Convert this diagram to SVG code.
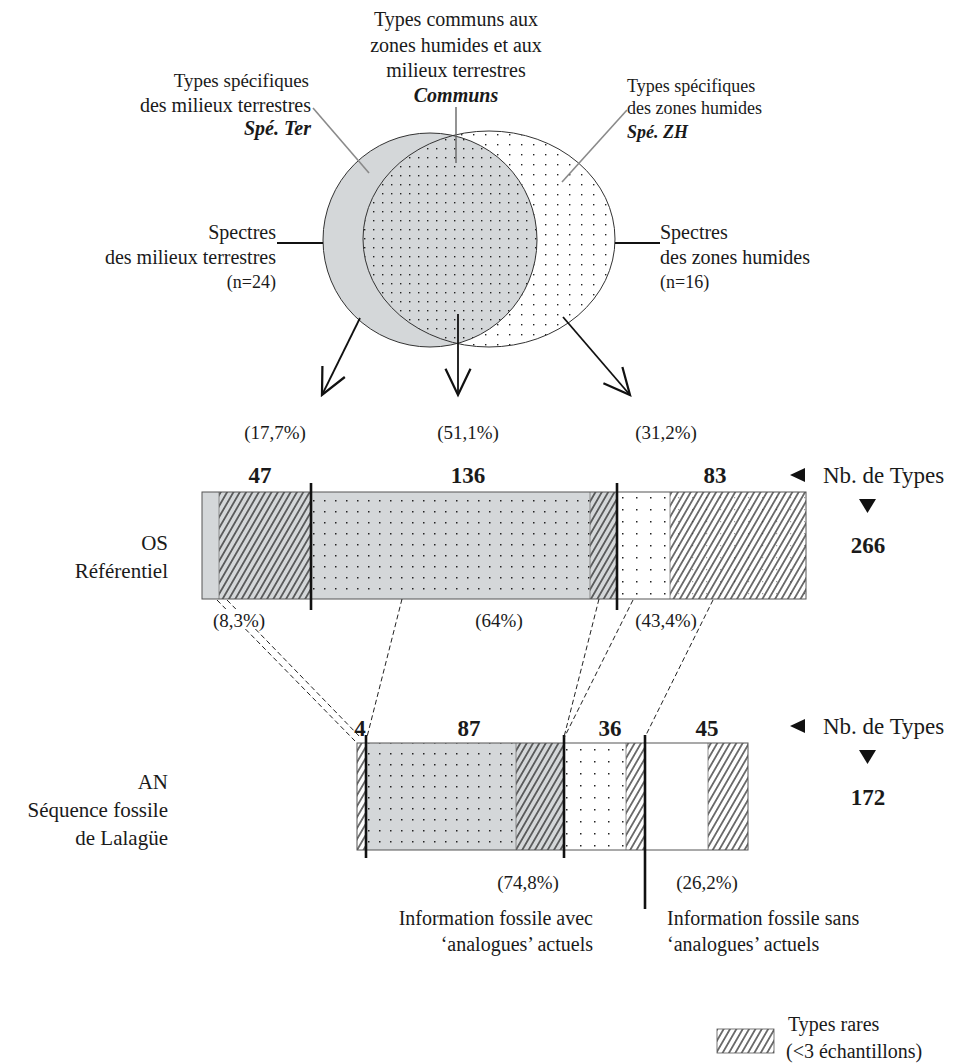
<svg xmlns="http://www.w3.org/2000/svg" width="968" height="1064" viewBox="0 0 968 1064">
<style>
.t{font-family:"Liberation Serif","Times New Roman",serif;fill:#1a1a1a}
.s20{font-size:20px}
.s19{font-size:19px}
.s18{font-size:18px}
.s21{font-size:21px}
.s23{font-size:23px}
.b{font-weight:bold}
.bi{font-weight:bold;font-style:italic}
.mid{text-anchor:middle}
.end{text-anchor:end}
.gray{fill:#d4d7d9}
.white{fill:#ffffff}
.seg{stroke:#777;stroke-width:0.8}
.frame{fill:none;stroke:#555;stroke-width:1}
.sep{stroke:#111;stroke-width:2.6}
.dash{stroke:#222;stroke-width:1;stroke-dasharray:5 3;fill:none}
.lead{stroke:#8a8a8a;stroke-width:1.6;fill:none}
.arrow{stroke:#111;stroke-width:1.8;fill:none}
.tick{stroke:#111;stroke-width:2}
</style>
<defs>
<pattern id="hatch" width="5.5" height="10" patternUnits="userSpaceOnUse" patternTransform="rotate(30)">
<line x1="2.75" y1="-1" x2="2.75" y2="11" stroke="#111" stroke-width="1.15"/>
</pattern>
<pattern id="dotsDense" width="9" height="9" patternUnits="userSpaceOnUse">
<rect x="4" y="4" width="1.4" height="1.4" fill="#222"/>
</pattern>
<pattern id="dotsSparse" width="12" height="10" patternUnits="userSpaceOnUse">
<rect x="5" y="4" width="1.4" height="1.4" fill="#222"/>
</pattern>
<pattern id="dotsBar" width="11" height="11" patternUnits="userSpaceOnUse">
<rect x="5" y="5" width="1.5" height="1.5" fill="#222"/>
</pattern>
<pattern id="dotsBarW" width="14" height="12" patternUnits="userSpaceOnUse">
<rect x="6" y="5" width="1.5" height="1.5" fill="#222"/>
</pattern>
<pattern id="dotsFaint" width="14" height="12" patternUnits="userSpaceOnUse">
<rect x="6" y="5" width="1.2" height="1.2" fill="#999"/>
</pattern>
<clipPath id="clipLeft"><circle cx="430" cy="240" r="107"/></clipPath>
<marker id="arr" markerUnits="userSpaceOnUse" markerWidth="30" markerHeight="30" viewBox="0 0 24 22" refX="22" refY="11" orient="auto">
<path d="M1,1 L22,11 L1,21" fill="none" stroke="#111" stroke-width="1.8"/>
</marker>
</defs>

<rect x="0" y="0" width="968" height="1064" fill="#ffffff"/>

<!-- Venn diagram -->
<g id="venn">
  <g id="spe-ter">
    <circle cx="430" cy="240" r="107" class="gray"/>
  </g>
  <g id="spe-zh">
    <ellipse cx="489" cy="239" rx="126" ry="108" fill="#ffffff"/>
    <ellipse cx="489" cy="239" rx="126" ry="108" fill="url(#dotsSparse)"/>
  </g>
  <g id="communs" clip-path="url(#clipLeft)">
    <ellipse cx="489" cy="239" rx="126" ry="108" class="gray"/>
    <ellipse cx="489" cy="239" rx="126" ry="108" fill="url(#dotsDense)"/>
  </g>
  <circle cx="430" cy="240" r="107" fill="none" stroke="#333" stroke-width="1"/>
  <ellipse cx="489" cy="239" rx="126" ry="108" fill="none" stroke="#333" stroke-width="1"/>
</g>

<!-- Venn labels -->
<g id="label-communs">
  <text class="t s20 mid" x="456" y="26">Types communs aux</text>
  <text class="t s20 mid" x="456" y="52">zones humides et aux</text>
  <text class="t s20 mid" x="456" y="77">milieux terrestres</text>
  <text class="t s20 mid bi" x="456" y="102">Communs</text>
</g>
<g id="label-speter">
  <text class="t s19 end" x="309" y="87">Types spécifiques</text>
  <text class="t s20 end" x="311" y="112">des milieux terrestres</text>
  <text class="t s20 end bi" x="311" y="135">Spé. Ter</text>
</g>
<g id="label-spezh">
  <text class="t s18" x="627" y="92">Types spécifiques</text>
  <text class="t s18" x="627" y="114">des zones humides</text>
  <text class="t s18 bi" x="627" y="138">Spé. ZH</text>
</g>
<g id="label-spectres-ter">
  <text class="t s20 end" x="276" y="239">Spectres</text>
  <text class="t s20 end" x="276" y="264">des milieux terrestres</text>
  <text class="t s18 end" x="276" y="288">(n=24)</text>
</g>
<g id="label-spectres-zh">
  <text class="t s20" x="660" y="239">Spectres</text>
  <text class="t s20" x="660" y="264">des zones humides</text>
  <text class="t s18" x="660" y="288">(n=16)</text>
</g>
<g id="venn-pct">
  <text class="t s19 mid" x="275" y="439">(17,7%)</text>
  <text class="t s19 mid" x="468" y="439">(51,1%)</text>
  <text class="t s19 mid" x="666" y="439">(31,2%)</text>
</g>

<!-- Upper bar: OS Référentiel -->
<g id="bar-os">
  <rect x="202" y="492" width="17" height="107" class="gray"/>
  <rect x="219" y="492" width="92" height="107" class="gray"/>
  <rect x="219" y="492" width="92" height="107" fill="url(#hatch)"/>
  <rect x="311" y="492" width="279" height="107" class="gray"/>
  <rect x="311" y="492" width="279" height="107" fill="url(#dotsBar)"/>
  <rect x="590" y="492" width="27" height="107" class="gray"/>
  <rect x="590" y="492" width="27" height="107" fill="url(#hatch)"/>
  <rect x="617" y="492" width="53" height="107" class="white"/>
  <rect x="617" y="492" width="53" height="107" fill="url(#dotsBarW)"/>
  <rect x="670" y="492" width="136" height="107" class="white"/>
  <rect x="670" y="492" width="136" height="107" fill="url(#dotsFaint)"/>
  <rect x="670" y="492" width="136" height="107" fill="url(#hatch)"/>
  <line x1="219" y1="492" x2="219" y2="599" class="seg"/>
  <line x1="590" y1="492" x2="590" y2="599" class="seg"/>
  <line x1="670" y1="492" x2="670" y2="599" class="seg"/>
  <rect x="202" y="492" width="604" height="107" class="frame"/>
  <line x1="311" y1="483" x2="311" y2="610" class="sep"/>
  <line x1="617" y1="483" x2="617" y2="610" class="sep"/>
  <text class="t s23 b mid" x="260" y="483">47</text>
  <text class="t s23 b mid" x="468" y="483">136</text>
  <text class="t s23 b mid" x="715" y="483">83</text>
  <text class="t s19 mid" x="239" y="627">(8,3%)</text>
  <text class="t s19 mid" x="499" y="627">(64%)</text>
  <text class="t s19 mid" x="666" y="627">(43,4%)</text>
</g>
<g id="label-os">
  <text class="t s21 end" x="168" y="550">OS</text>
  <text class="t s21 end" x="168" y="578">Référentiel</text>
</g>
<g id="total-os">
  <path d="M790,475 L805,468 L805,482 Z" fill="#111"/>
  <text class="t s23" x="823" y="483">Nb. de Types</text>
  <path d="M859,499 L876,499 L867.5,513 Z" fill="#111"/>
  <text class="t s23 b mid" x="868" y="553">266</text>
</g>

<!-- Lower bar: AN Séquence fossile -->
<g id="bar-an">
  <rect x="357" y="743" width="9" height="107" class="white"/>
  <rect x="357" y="743" width="9" height="107" fill="url(#hatch)"/>
  <rect x="366" y="743" width="150" height="107" class="gray"/>
  <rect x="366" y="743" width="150" height="107" fill="url(#dotsBar)"/>
  <rect x="516" y="743" width="48" height="107" class="gray"/>
  <rect x="516" y="743" width="48" height="107" fill="url(#hatch)"/>
  <rect x="564" y="743" width="62" height="107" class="white"/>
  <rect x="564" y="743" width="62" height="107" fill="url(#dotsBarW)"/>
  <rect x="626" y="743" width="19" height="107" class="white"/>
  <rect x="626" y="743" width="19" height="107" fill="url(#hatch)"/>
  <rect x="645" y="743" width="63" height="107" class="white"/>
  <rect x="708" y="743" width="40" height="107" class="white"/>
  <rect x="708" y="743" width="40" height="107" fill="url(#hatch)"/>
  <line x1="516" y1="743" x2="516" y2="850" class="seg"/>
  <line x1="626" y1="743" x2="626" y2="850" class="seg"/>
  <line x1="708" y1="743" x2="708" y2="850" class="seg"/>
  <rect x="357" y="743" width="391" height="107" class="frame"/>
  <line x1="366" y1="735" x2="366" y2="858" class="sep"/>
  <line x1="564" y1="735" x2="564" y2="858" class="sep"/>
  <line x1="645" y1="735" x2="645" y2="909" class="sep"/>
  <text class="t s23 b mid" x="360" y="736">4</text>
  <text class="t s23 b mid" x="469" y="736">87</text>
  <text class="t s23 b mid" x="610" y="736">36</text>
  <text class="t s23 b mid" x="707" y="736">45</text>
  <text class="t s19 mid" x="528" y="889">(74,8%)</text>
  <text class="t s19 mid" x="707" y="889">(26,2%)</text>
</g>
<g id="label-an">
  <text class="t s21 end" x="168" y="789">AN</text>
  <text class="t s21 end" x="168" y="817">Séquence fossile</text>
  <text class="t s21 end" x="168" y="845">de Lalagüe</text>
</g>
<g id="total-an">
  <path d="M790,726 L805,719 L805,733 Z" fill="#111"/>
  <text class="t s23" x="823" y="734">Nb. de Types</text>
  <path d="M859,750 L876,750 L867.5,764 Z" fill="#111"/>
  <text class="t s23 b mid" x="868" y="805">172</text>
</g>

<g id="info-avec">
  <text class="t s20 end" x="593" y="925">Information fossile avec</text>
  <text class="t s20 end" x="593" y="951">‘analogues’ actuels</text>
</g>
<g id="info-sans">
  <text class="t s20" x="667" y="925">Information fossile sans</text>
  <text class="t s20" x="667" y="951">‘analogues’ actuels</text>
</g>

<!-- Legend -->
<g id="legend">
  <rect x="717" y="1029" width="57" height="24" class="white"/>
  <rect x="717" y="1029" width="57" height="24" fill="url(#hatch)"/>
  <rect x="717" y="1029" width="57" height="24" fill="none" stroke="#555" stroke-width="0.8"/>
  <text class="t s20" x="788" y="1031">Types rares</text>
  <text class="t s20" x="786" y="1058">(&lt;3 échantillons)</text>
</g>

<!-- Connectors -->
<g id="connectors">
  <line x1="313" y1="108" x2="369" y2="173" class="lead"/>
  <line x1="627" y1="110" x2="562" y2="182" class="lead"/>
  <line x1="456" y1="107" x2="456" y2="163" stroke="#666" stroke-width="1.4"/>
  <line x1="277" y1="243" x2="323" y2="243" class="tick"/>
  <line x1="615" y1="243" x2="660" y2="243" class="tick"/>
  <line x1="360" y1="318" x2="322" y2="395" class="arrow" marker-end="url(#arr)"/>
  <line x1="458" y1="314" x2="458" y2="395" class="arrow" marker-end="url(#arr)"/>
  <line x1="563" y1="317" x2="630" y2="395" class="arrow" marker-end="url(#arr)"/>
  <line x1="217" y1="600" x2="225.8" y2="609" class="dash"/>
  <line x1="245.4" y1="629" x2="355" y2="741" class="dash"/>
  <line x1="227" y1="600" x2="235.8" y2="609" class="dash"/>
  <line x1="255.4" y1="629" x2="361" y2="738" class="dash"/>
  <line x1="402" y1="599" x2="367" y2="737" class="dash"/>
  <line x1="599" y1="599" x2="564" y2="737" class="dash"/>
  <line x1="633" y1="600" x2="564" y2="738" class="dash"/>
  <line x1="713" y1="600" x2="645" y2="737" class="dash"/>
</g>
</svg>
